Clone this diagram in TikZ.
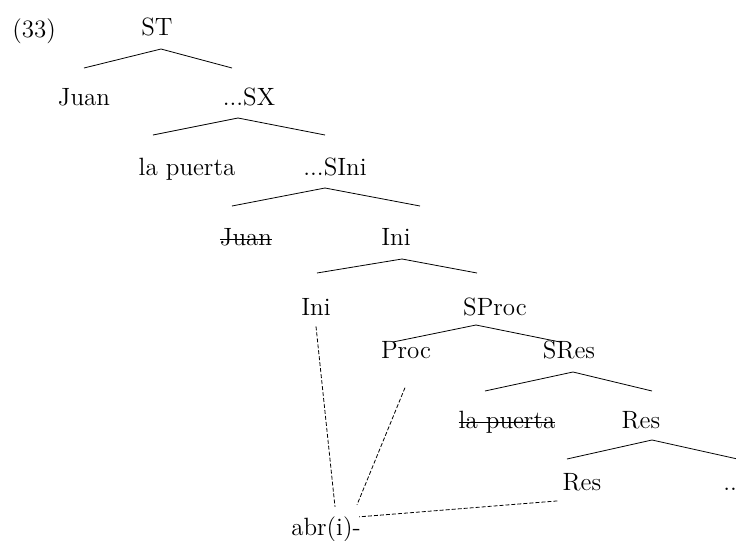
\documentclass[tikz,border=0pt]{standalone}
\newcommand\struck[1]{\setbox0\hbox{#1}\rlap{\rule[0.22em]{\wd0}{0.5pt}}\box0}
\begin{document}
\begin{tikzpicture}[x=0.5pt,y=-0.5pt,
  every node/.style={font=\fontsize{12.5}{15}\selectfont,inner sep=0pt,anchor=base},
  assoc/.style={dash pattern=on 2pt off 1pt,line width=0.4pt}]
  \useasboundingbox (0,0) rectangle (736,541);
  \node[anchor=base west] (ex) at (12,37) {(33)};
  \node (st) at (157,35) {ST};
  \node (juan) at (84,105) {Juan};
  \node (sx) at (249,105) {...SX};
  \node (lp) at (187,175) {la puerta};
  \node (sini) at (335,175) {...SIni};
  \node (juanx) at (246,245) {\struck{Juan}};
  \node (ini) at (396,245) {Ini};
  \node (inib) at (316,315) {Ini};
  \node (sproc) at (495,315) {SProc};
  \node (proc) at (406,358) {Proc};
  \node (sres) at (569,358) {SRes};
  \node (lpx) at (507,428) {\struck{la puerta}};
  \node (res) at (641,428) {Res};
  \node (resb) at (582,490) {Res};
  \node[anchor=base west] (dots) at (723,490) {...};
  \node (abr) at (326,535) {abr(i)-};
  % branches
  \draw (84,68) -- (161,49) -- (232,68);
  \draw (153,135) -- (238,118) -- (325,135);
  \draw (232,206) -- (325,188) -- (420,206);
  \draw (317,273) -- (402,259) -- (477,273);
  \draw (393,342) -- (476,325) -- (560,342);
  \draw (485,391) -- (573,372) -- (652,391);
  \draw (567,459) -- (652,440) -- (742,460);
  % association lines
  \draw[assoc] ([shift={(0,11)}]inib.south) -- ([shift={(9,-9)}]abr.north);
  \draw[assoc] ([shift={(-1,29)}]proc.south) -- ([shift={(31,-11)}]abr.north);
  \draw[assoc] ([shift={(-5,10)}]resb.south west) -- ([shift={(-2,1)}]abr.north east);
\end{tikzpicture}
\end{document}
